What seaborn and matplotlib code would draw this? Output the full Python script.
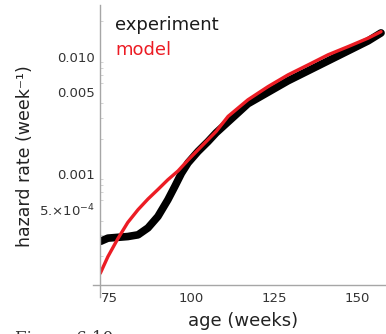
import numpy as np
import pandas as pd
import seaborn as sns
import matplotlib.pyplot as plt
from matplotlib.ticker import FixedLocator, LogLocator, NullFormatter

# values (age in weeks, hazard rate per week)
exp_age = [72.5, 74.7, 80.7, 83.8, 86.8, 89.8, 92.8, 94.9, 96.9, 98.9,
           101.9, 104.9, 107.4, 117.0, 129.1, 141.2, 153.3, 157.2]
exp_rate = [2.66e-4, 2.83e-4, 2.92e-4, 3.02e-4, 3.46e-4, 4.33e-4, 6.0e-4, 7.8e-4, 1.01e-3, 1.24e-3,
            1.55e-3, 1.88e-3, 2.24e-3, 3.96e-3, 6.21e-3, 9.19e-3, 1.36e-2, 1.59e-2]

model_age = [72.4, 74.7, 77.7, 80.7, 83.8, 86.8, 89.8, 92.8, 95.9, 98.9, 101.9,
             104.9, 107.4, 111.0, 117.0, 123.1, 129.1, 135.2, 141.2, 147.3, 153.3, 157.2]
model_rate = [1.42e-4, 1.97e-4, 2.8e-4, 3.85e-4, 4.95e-4, 6.1e-4, 7.35e-4, 8.9e-4, 1.06e-3, 1.31e-3, 1.60e-3,
              1.95e-3, 2.30e-3, 3.09e-3, 4.28e-3, 5.55e-3, 6.98e-3, 8.50e-3, 1.035e-2, 1.217e-2, 1.435e-2, 1.63e-2]

x_ticks = [75, 100, 125, 150]
y_ticks = [0.001, 0.0005, 0.005, 0.010]
y_labels = ["0.001", r"5.$\times10^{-4}$", "0.005", "0.010"]

sns.set_style("white")

axis_grey = "#a6a6a6"
red = "#ec1c24"

fig = plt.figure(figsize=(3.86, 3.34), dpi=100)
ax = fig.add_axes([0.259, 0.147, 0.741, 0.838])

exp_df = pd.DataFrame({"age": exp_age, "rate": exp_rate})
model_df = pd.DataFrame({"age": model_age, "rate": model_rate})
sns.lineplot(data=exp_df, x="age", y="rate", color="black", lw=5.5, ax=ax,
             solid_capstyle="round")
sns.lineplot(data=model_df, x="age", y="rate", color=red, lw=2.4, ax=ax,
             solid_capstyle="round")

ax.set_yscale("log")
ax.set_xlim(72.3, 158.7)
ax.set_ylim(1.13e-4, 0.0275)

# axes drawn like crossing lines
for s in ["top", "right"]:
    ax.spines[s].set_visible(False)
ax.spines["left"].set_color(axis_grey)
ax.spines["bottom"].set_color(axis_grey)
ax.spines["left"].set_linewidth(1.0)
ax.spines["bottom"].set_linewidth(1.0)
ax.spines["left"].set_bounds(8.9e-5, 0.0275)
ax.spines["bottom"].set_bounds(70.2, 160)

ax.xaxis.set_major_locator(FixedLocator(x_ticks))
ax.set_xticklabels([str(t) for t in x_ticks])
ax.yaxis.set_major_locator(FixedLocator(y_ticks))
ax.set_yticklabels(y_labels)
ax.yaxis.set_minor_locator(LogLocator(base=10, subs=np.arange(2, 10)))
ax.yaxis.set_minor_formatter(NullFormatter())

ax.tick_params(axis="both", which="major", direction="in", length=4, width=0.8,
               color=axis_grey, labelsize=9.5, labelcolor="#333333", pad=4)
ax.tick_params(axis="x", which="major", pad=5)
ax.tick_params(axis="y", which="minor", direction="in", length=2, width=0.6,
               color="#cccccc", left=True)
ax.tick_params(axis="x", which="minor", bottom=False)

ax.set_xlabel("age (weeks)", fontsize=13, color="#222222", labelpad=5)
ax.set_ylabel("hazard rate (week\u207b\u00b9)", fontsize=12.5, color="#222222")
ax.yaxis.set_label_coords(-0.23, 0.46)

ax.text(0.052, 0.929, "experiment", transform=ax.transAxes, fontsize=13,
        color="#1a1a1a", va="center", ha="left")
ax.text(0.055, 0.839, "model", transform=ax.transAxes, fontsize=13,
        color=red, va="center", ha="left")

fig.text(0.04, 0.012, "Figure 6.10", family="DejaVu Serif", fontsize=12,
         color="#333333", va="top", ha="left")

fig.savefig("out.png", dpi=100)
